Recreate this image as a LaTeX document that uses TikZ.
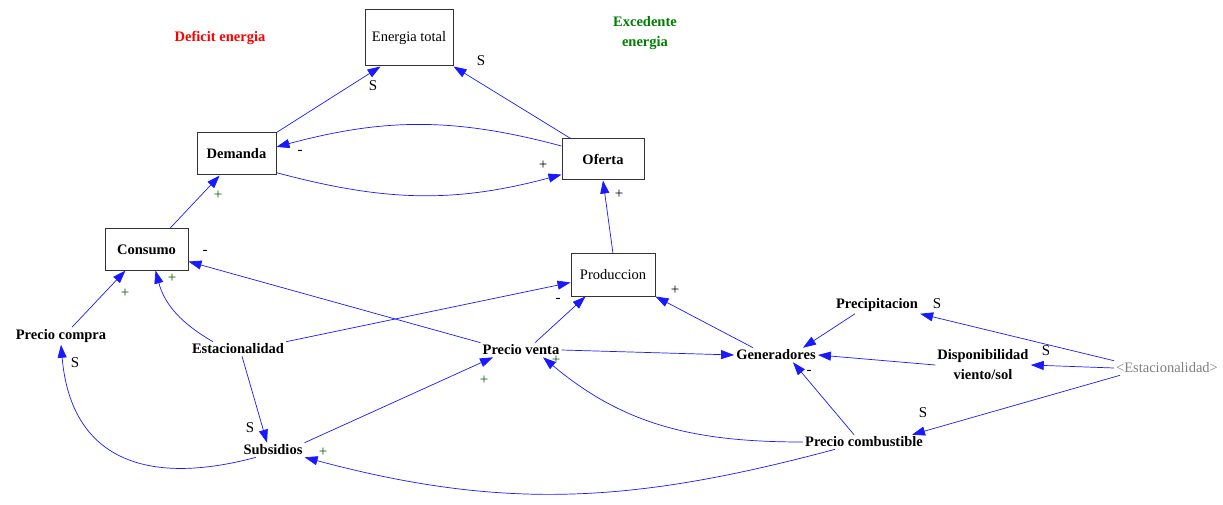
\documentclass[tikz,border=0pt]{standalone}
\usepackage{fontspec}
\setmainfont{Liberation Serif}
\usetikzlibrary{arrows.meta}
\definecolor{arrblue}{RGB}{25,25,255}
\definecolor{titlegreen}{RGB}{0,128,0}
\definecolor{lblgreen}{RGB}{0,90,0}
\definecolor{shadowgray}{RGB}{128,128,128}
\newcommand{\dfont}{\fontsize{14.5}{20}\selectfont}
\newcommand{\lfont}{\fontsize{15}{16}\selectfont}
\tikzset{
  box/.style={draw=black!80, line width=1pt, font=\dfont, inner sep=2pt},
  var/.style={font=\dfont\bfseries, inner sep=2pt, align=center},
  lbl/.style={font=\lfont, inner sep=0pt},
  glbl/.style={lbl, text=lblgreen},
  link/.style={draw=arrblue, line width=0.7pt, -{Triangle[length=13pt,width=9pt]}}
}
\begin{document}
\begin{tikzpicture}[x=1pt,y=1pt]
\fill[white] (0,0) rectangle (1223,504);
\useasboundingbox (0,0) rectangle (1223,504);
% boxes
\node[box, minimum width=88pt, minimum height=56pt] (et) at (409,466) {Energia total};
\node[box, font=\dfont\bfseries, minimum width=79pt, minimum height=42pt] (dem) at (236.5,350) {Demanda};
\node[box, font=\dfont\bfseries, minimum width=82pt, minimum height=41pt] (of) at (603,344.5) {Oferta};
\node[box, font=\dfont\bfseries, minimum width=83pt, minimum height=41pt] (con) at (146.5,254.5) {Consumo};
\node[box, minimum width=84pt, minimum height=42pt] (prod) at (613,229) {Produccion};
% titles
\node[var, text=red] (deficit) at (220,466) {Deficit energia};
\node[var, text=titlegreen] (exced) at (645,471) {Excedente\\energia};
% variables
\node[var] (pcompra) at (61,168) {Precio compra};
\node[var] (est) at (238,155) {Estacionalidad};
\node[var] (subs) at (273,54) {Subsidios};
\node[var] (pventa) at (521,154) {Precio venta};
\node[var] (gen) at (776,149) {Generadores};
\node[var] (precip) at (877,199) {Precipitacion};
\node[var] (disp) at (983,139) {Disponibilidad\\viento/sol};
\node[var, font=\dfont, text=shadowgray] (est2) at (1167,136) {<Estacionalidad>};
\node[var] (pcomb) at (864,62) {Precio combustible};
% links
\draw[link] (dem.north east) -- (et.225);
\draw[link] (of.147) -- (et.south east);
\draw[link] (of.162) to[out=165,in=15] (dem.10);
\draw[link] (dem.-25) to[out=-15,in=195] (of.200);
\draw[link] (con.42) -- (dem.232);
\draw[link] (prod.north) -- (of.south);
\draw[link] ([xshift=11pt]pcompra.north) -- (con.225);
\draw[link] ([xshift=-25pt]est.north) to[out=150,in=-75] ([xshift=9pt]con.south);
\draw[link] (pventa.north west) -- (con.-16);
\draw[link] (est.north east) -- (prod.190);
\draw[link] ([xshift=14pt]pventa.north) -- (prod.218);
\draw[link] ([xshift=-23pt]gen.north) -- (prod.south east);
\draw[link] (pventa.east) -- (gen.west);
\draw[link] ([xshift=4pt]est.south) -- ([xshift=-6pt]subs.north);
\draw[link] (subs.north east) -- ([xshift=-28pt]pventa.south);
\draw[link] ([xshift=-17pt]subs.south) to[out=195,in=-85,looseness=1.3] (pcompra.south);
\draw[link] ([xshift=-29pt]pcomb.south) to[out=195,in=-15] (subs.south east);
\draw[link] (pcomb.west) to[out=180,in=-40] ([xshift=22pt]pventa.south);
\draw[link] ([xshift=-10pt]pcomb.north) -- ([xshift=17pt]gen.south);
\draw[link] ([xshift=-22pt]precip.south) -- ([xshift=27pt]gen.north);
\draw[link] (disp.west) -- (gen.east);
\draw[link] (est2.north west) -- (precip.south east);
\draw[link] (est2.west) -- (disp.east);
\draw[link] ([xshift=-47pt]est2.south) -- ([xshift=48pt]pcomb.north);
% polarity labels
\node[lbl] (l1) at (373,418) {S};
\node[lbl] (l2) at (481,443) {S};
\node[lbl] (l3) at (300,352) {-};
\node[lbl] (l4) at (543,339) {+};
\node[glbl] (l5) at (218,309) {+};
\node[lbl] (l6) at (619,310) {+};
\node[glbl] (l7) at (125,211) {+};
\node[glbl] (l8) at (172,226) {+};
\node[lbl] (l9) at (205,252) {-};
\node[lbl] (l10) at (558,204) {-};
\node[lbl] (l11) at (675,214) {+};
\node[lbl] (l12) at (250,76) {S};
\node[glbl] (l13) at (484,124) {+};
\node[lbl] (l14) at (75,141) {S};
\node[glbl] (l15) at (323,52) {+};
\node[glbl] (l16) at (556,144) {+};
\node[lbl] (l17) at (809,132) {-};
\node[lbl] (l18) at (937,200) {S};
\node[lbl] (l19) at (1046,153) {S};
\node[lbl] (l20) at (923,91) {S};
\end{tikzpicture}
\end{document}
